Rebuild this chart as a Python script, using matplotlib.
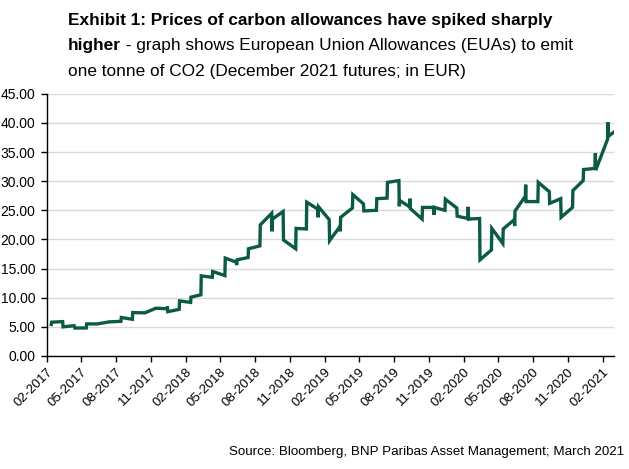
import matplotlib
matplotlib.use('Agg')
from matplotlib import pyplot as plt
import matplotlib.dates as mdates
import numpy as np
import pandas as pd


# EUA Dec-21 futures, EUR
dates = [
    '2017-02-13', '2017-02-14', '2017-03-15', '2017-03-16', '2017-04-14', '2017-04-16',
    '2017-05-16', '2017-05-17', '2017-06-14', '2017-07-15', '2017-08-15', '2017-08-16',
    '2017-09-14', '2017-09-15', '2017-10-17', '2017-11-15', '2017-12-14', '2017-12-15',
    '2017-12-16', '2018-01-15', '2018-01-16', '2018-02-14', '2018-02-15', '2018-03-13',
    '2018-03-14', '2018-04-12', '2018-04-13', '2018-05-15', '2018-05-16', '2018-06-14',
    '2018-06-15', '2018-06-16', '2018-07-15', '2018-07-16', '2018-08-15', '2018-08-16',
    '2018-09-15', '2018-09-16', '2018-09-17', '2018-10-15', '2018-10-16', '2018-11-17',
    '2018-11-18', '2018-12-15', '2018-12-16', '2019-01-14', '2019-01-15', '2019-01-16',
    '2019-02-13', '2019-02-14', '2019-03-13', '2019-03-14', '2019-03-15', '2019-04-15',
    '2019-04-16', '2019-05-14', '2019-05-15', '2019-06-17', '2019-06-18', '2019-07-15',
    '2019-07-16', '2019-08-15', '2019-08-16', '2019-08-17', '2019-09-12', '2019-09-13',
    '2019-09-14', '2019-10-15', '2019-10-16', '2019-11-14', '2019-11-15', '2019-11-16',
    '2019-12-14', '2019-12-15', '2020-01-14', '2020-01-15', '2020-02-12', '2020-02-13',
    '2020-02-14', '2020-03-14', '2020-03-15', '2020-04-14', '2020-04-15', '2020-05-14',
    '2020-05-15', '2020-06-13', '2020-06-14', '2020-06-15', '2020-07-12', '2020-07-13',
    '2020-07-14', '2020-08-14', '2020-08-15', '2020-09-13', '2020-09-14', '2020-10-13',
    '2020-10-14', '2020-11-13', '2020-11-14', '2020-12-11', '2020-12-12', '2021-01-11',
    '2021-01-12', '2021-01-13', '2021-02-13', '2021-02-14', '2021-02-15', '2021-03-01',
]
prices = [
    5.4, 5.8, 5.9, 5.0, 5.2, 4.8,
    4.8, 5.5, 5.5, 5.85, 5.95, 6.6,
    6.3, 7.45, 7.4, 8.2, 8.1, 8.5,
    7.6, 8.0, 9.45, 9.2, 10.1, 10.5,
    13.75, 13.5, 14.5, 13.8, 16.8, 16.1,
    15.6, 16.5, 16.9, 18.4, 18.9, 22.5,
    24.5, 21.4, 23.5, 24.8, 19.9, 18.4,
    21.9, 21.8, 26.4, 25.2, 23.8, 25.6,
    23.4, 19.8, 22.2, 21.4, 23.8, 25.4,
    27.7, 26.1, 24.9, 25.0, 27.0, 27.1,
    29.8, 30.1, 25.7, 26.7, 25.6, 27.0,
    25.3, 23.5, 25.5, 25.5, 24.2, 25.5,
    25.0, 26.9, 25.4, 24.0, 23.6, 25.6,
    23.5, 23.6, 16.5, 18.2, 21.9, 19.3,
    21.8, 23.4, 22.3, 24.9, 27.4, 29.4,
    26.5, 26.5, 29.8, 28.2, 26.2, 27.0,
    23.8, 25.5, 28.4, 30.1, 32.0, 32.2,
    34.8, 31.9, 37.2, 40.1, 37.7, 38.4,
]
yticks = np.arange(0, 46, 5)

dates = pd.to_datetime(dates)
green = '#0b5a45'
font = 'Liberation Sans'

fig = plt.figure(figsize=(6.29, 4.69), dpi=100)
ax = fig.add_axes([0.0742, 0.241, 0.902, 0.559])

ax.plot(dates, prices, color=green, lw=2.4, solid_joinstyle='miter')

ax.set_ylim(0, 45)
ax.set_yticks(yticks)
ax.set_yticklabels(['%.2f' % v for v in yticks], fontfamily=font, fontsize=10)
ax.set_xlim(pd.Timestamp('2017-02-01'), pd.Timestamp('2021-03-02'))
ax.xaxis.set_major_locator(mdates.MonthLocator(bymonth=[2, 5, 8, 11]))
ax.xaxis.set_major_formatter(mdates.DateFormatter('%m-%Y'))
plt.setp(ax.get_xticklabels(), rotation=45, ha='right', rotation_mode='anchor',
         fontfamily=font, fontsize=9.5)

ax.grid(axis='y', color='#d9d9d9', lw=1)
ax.set_axisbelow(True)
for s in ['top', 'right']:
    ax.spines[s].set_visible(False)
for s in ['left', 'bottom']:
    ax.spines[s].set_color('black')
    ax.spines[s].set_linewidth(1)
ax.tick_params(axis='y', length=4, width=1, color='black', pad=4)
ax.tick_params(axis='x', length=4, width=1, color='black', pad=3)

fs = 12.4
x0 = 68 / 629
fig.text(x0, 0.957, 'Exhibit 1: Prices of carbon allowances have spiked sharply',
         fontfamily=font, fontsize=fs, fontweight='bold', va='center')
t2 = fig.text(x0, 0.902, 'higher', fontfamily=font, fontsize=fs,
              fontweight='bold', va='center')
fig.canvas.draw()
bb = t2.get_window_extent()
fig.text(bb.x1 / fig.bbox.width, 0.902,
         ' - graph shows European Union Allowances (EUAs) to emit',
         fontfamily=font, fontsize=fs, va='center')
fig.text(x0, 0.847, 'one tonne of CO2 (December 2021 futures; in EUR)',
         fontfamily=font, fontsize=fs, va='center')

fig.text(0.993, 0.036, 'Source: Bloomberg, BNP Paribas Asset Management; March 2021',
         fontfamily=font, fontsize=9.6, ha='right', va='center')

fig.savefig('out.png', dpi=100)
